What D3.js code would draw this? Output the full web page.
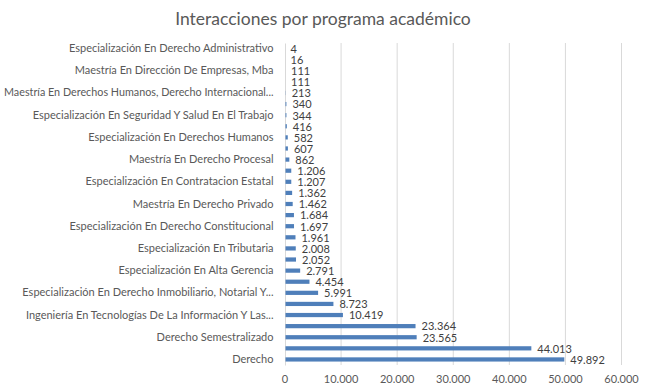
<!DOCTYPE html>
<html>
<head>
<meta charset="utf-8">
<script src="https://cdn.jsdelivr.net/npm/d3@7"></script>
<style>
  body { margin: 0; background: #fff; }
</style>
</head>
<body>
<div id="chart"></div>
<script>
// Programs, top to bottom as they appear in the chart
const programs = [
    "Especialización En Derecho Administrativo",
    "Maestría En Derecho Penal",
    "Maestría En Dirección De Empresas, Mba",
    "Especialización En Derecho Penal",
    "Maestría En Derechos Humanos, Derecho Internacional...",
    "Especialización En Derecho Laboral",
    "Especialización En Seguridad Y Salud En El Trabajo",
    "Especialización En Derecho De Familia",
    "Especialización En Derechos Humanos",
    "Maestría En Derecho Administrativo",
    "Maestría En Derecho Procesal",
    "Especialización En Derecho Procesal",
    "Especialización En Contratacion Estatal",
    "Especialización En Derecho Comercial",
    "Maestría En Derecho Privado",
    "Especialización En Gerencia Financiera",
    "Especialización En Derecho Constitucional",
    "Administración De Empresas",
    "Especialización En Tributaria",
    "Contaduría Pública",
    "Especialización En Alta Gerencia",
    "Especialización En Revisoría Fiscal",
    "Especialización En Derecho Inmobiliario, Notarial Y...",
    "Ingeniería De Sistemas",
    "Ingeniería En Tecnologías De La Información Y Las...",
    "Psicología",
    "Derecho Semestralizado",
    "Derecho Virtual",
    "Derecho"
];
const interactions = [
    4, 16, 111, 111, 213, 340, 344, 416, 582, 607, 862, 1206, 1207, 1362, 1462,
    1684, 1697, 1961, 2008, 2052, 2791, 4454, 5991, 8723, 10419, 23364, 23565,
    44013, 49892
];
const xTicks = [0, 10000, 20000, 30000, 40000, 50000, 60000];
const title = "Interacciones por programa académico";

const data = programs.map((p, i) => ({ program: p, value: interactions[i], idx: i }));

// Set up dimensions
const width = 646, height = 392;
const margin = { top: 43, right: 25, bottom: 27, left: 284.5 };
const innerWidth = width - margin.left - margin.right;
const innerHeight = height - margin.top - margin.bottom;

const locale = d3.formatLocale({ decimal: ",", thousands: ".", grouping: [3], currency: ["$", ""] });
const fmt = locale.format(",d");

const font = "Lato, 'Open Sans', sans-serif";

const svg = d3.select("#chart").append("svg")
    .attr("width", width)
    .attr("height", height)
    .style("font-family", font);

svg.append("rect").attr("width", width).attr("height", height).attr("fill", "#fff");

svg.append("text")
    .attr("x", width / 2)
    .attr("y", 25)
    .attr("text-anchor", "middle")
    .style("font-size", "17.5px")
    .style("fill", "#595959")
    .text(title);

const g = svg.append("g")
    .attr("transform", `translate(${margin.left},${margin.top})`);

// Scales
const x = d3.scaleLinear()
    .domain([0, 60000])
    .range([0, innerWidth]);

const y = d3.scaleBand()
    .domain(programs)
    .range([0, innerHeight])
    .paddingInner(0.62)
    .paddingOuter(0.31);

// Gridlines
g.selectAll(".grid")
    .data(xTicks.slice(1))
    .enter()
    .append("line")
    .attr("class", "grid")
    .attr("x1", d => x(d) + 0.5)
    .attr("x2", d => x(d) + 0.5)
    .attr("y1", 0)
    .attr("y2", innerHeight)
    .attr("stroke", "#d9d9d9")
    .attr("stroke-width", 1);

// X axis labels
const xAxis = g.append("g")
    .attr("transform", `translate(0,${innerHeight})`)
    .call(d3.axisBottom(x).tickValues(xTicks).tickFormat(fmt).tickSize(0).tickPadding(10));
xAxis.select(".domain").remove();
xAxis.selectAll("text")
    .style("font-family", font)
    .style("font-size", "11px")
    .style("fill", "#595959");

// Y axis (only every other label fits, as in the original)
const yAxis = g.append("g")
    .call(d3.axisLeft(y).tickSize(0).tickPadding(11));
yAxis.select(".domain")
    .attr("stroke", "#d9d9d9")
    .attr("transform", "translate(0.5,0)");
yAxis.selectAll(".tick")
    .filter((d, i) => i % 2 === 1)
    .remove();
yAxis.selectAll("text")
    .style("font-family", font)
    .style("font-size", "11px")
    .style("fill", "#595959")
    .each(function() {
        // squeeze the longest labels so they stay inside the left edge
        const maxLen = margin.left - 11 - 4;
        if (this.getComputedTextLength() > maxLen) {
            d3.select(this).attr("textLength", maxLen).attr("lengthAdjust", "spacingAndGlyphs");
        }
    });

// Bars
g.selectAll(".bar")
    .data(data)
    .enter()
    .append("rect")
    .attr("class", "bar")
    .attr("x", 1)
    .attr("y", d => y(d.program))
    .attr("width", d => Math.max(0, x(d.value) - 1))
    .attr("height", y.bandwidth())
    .attr("fill", "#4f7fba");

// Value labels
g.selectAll(".value-label")
    .data(data)
    .enter()
    .append("text")
    .attr("class", "value-label")
    .attr("x", d => x(d.value) + 6)
    .attr("y", d => y(d.program) + y.bandwidth() / 2 + 0.5)
    .attr("dy", "0.35em")
    .style("font-size", "11px")
    .style("fill", "#404040")
    .text(d => fmt(d.value));
</script>
</body>
</html>
